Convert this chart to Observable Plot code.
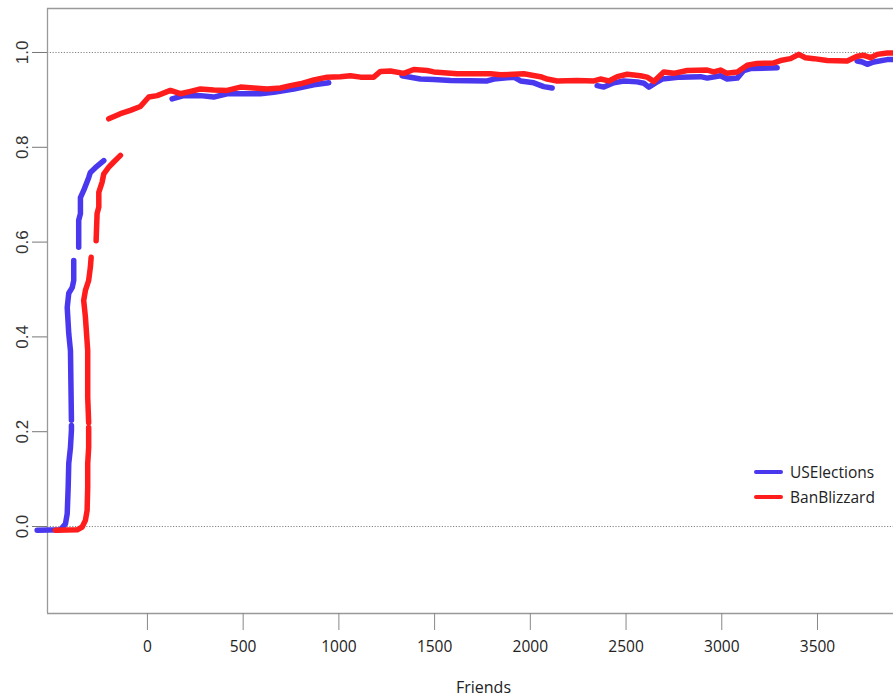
<!DOCTYPE html>
<html><head><meta charset="utf-8">
<script src="https://cdn.jsdelivr.net/npm/d3@7"></script>
<script src="https://cdn.jsdelivr.net/npm/@observablehq/plot@0.6"></script>
<style>
body{margin:0;background:#fff;}
#wrap{position:relative;width:893px;height:698px;overflow:hidden;}
#legend{position:absolute;left:754px;top:459px;font-family:"Open Sans",sans-serif;font-size:15.5px;color:#222;}
.row{display:flex;align-items:center;height:25px;}
.sw{width:29px;height:4px;margin-right:7px;border-radius:2px;}
</style></head><body><div id="wrap"><div id="legend"></div></div>
<script>
// Series names and colours
const seriesNames = ["USElections", "BanBlizzard"];
const seriesColors = ["#4a38ee", "#ff1c1c"];

// USElections (null marks a gap in the line)
const usX = [-576,-454,-428,-419,-414,-411,-402,-397,-397,null,
  -397,-402,-411,-419,-411,-393,-385,-385,null,
  -359,-359,-350,-350,-333,-307,-298,-272,-228,null,
  129,190,277,346,416,590,660,764,869,947,null,
  1330,1426,1496,1583,1775,1809,1914,1949,2018,2070,2114,null,
  2349,2384,2436,2488,2558,2593,2619,2654,2689,2784,2889,2924,2993,3028,3081,3115,3150,3289,null,
  3707,3734,3760,3794,3864,3897];
const usY = [-0.008,-0.007,0.006,0.027,0.083,0.133,0.167,0.203,0.213,null,
  0.224,0.371,0.407,0.462,0.492,0.504,0.519,0.561,null,
  0.589,0.646,0.660,0.694,0.709,0.736,0.747,0.757,0.772,null,
  0.902,0.909,0.909,0.906,0.913,0.913,0.916,0.923,0.932,0.936,null,
  0.951,0.944,0.943,0.941,0.940,0.944,0.948,0.940,0.936,0.928,0.925,null,
  0.930,0.927,0.936,0.940,0.938,0.935,0.927,0.936,0.944,0.948,0.949,0.946,0.951,0.944,0.946,0.962,0.966,0.968,null,
  0.982,0.980,0.975,0.980,0.985,0.985];

// BanBlizzard
const bbX = [-481,-367,-341,-324,-315,-312,-312,-307,-307,null,
  -307,-312,-312,-312,-324,-333,-324,-307,-298,-294,null,
  -268,-263,-254,-254,-237,-228,-202,-176,-141,null,
  -202,-141,-89,-37,7,51,120,172,225,277,346,416,486,555,625,695,747,799,869,939,1008,1060,1113,1182,1217,1269,1339,1391,1461,1496,1618,1792,1844,1966,2053,2088,2140,2245,2332,2366,2410,2454,2506,2575,2610,2645,2697,2749,2819,2924,2958,2993,3028,3081,3133,3185,3272,3307,3359,3402,3437,3481,3551,3655,3707,3742,3777,3812,3864,3897];
const bbY = [-0.008,-0.007,-0.001,0.013,0.034,0.083,0.132,0.167,0.209,null,
  0.219,0.273,0.344,0.371,0.442,0.477,0.498,0.519,0.547,0.568,null,
  0.603,0.660,0.674,0.705,0.726,0.744,0.758,0.769,0.783,null,
  0.860,0.871,0.878,0.886,0.906,0.909,0.920,0.913,0.918,0.923,0.921,0.920,0.927,0.925,0.923,0.925,0.930,0.934,0.942,0.948,0.949,0.951,0.948,0.948,0.960,0.961,0.956,0.964,0.962,0.959,0.955,0.955,0.953,0.955,0.949,0.944,0.940,0.941,0.940,0.944,0.940,0.949,0.954,0.951,0.948,0.939,0.959,0.956,0.962,0.963,0.959,0.963,0.956,0.959,0.973,0.977,0.978,0.983,0.987,0.996,0.989,0.987,0.983,0.982,0.992,0.994,0.989,0.996,0.999,0.999];

// Axes
const xTicks = [0,500,1000,1500,2000,2500,3000,3500];
const yTicks = [0,0.2,0.4,0.6,0.8,1.0];
const refLines = [0,1];
const xDomain = [-522, 3897];
const yDomain = [-0.1835, 1.0928];
const xLabel = "Friends";

const toRows = (xs, ys) => xs.map((x, i) => ({x, y: ys[i]}));
const us = toRows(usX, usY);
const bb = toRows(bbX, bbY);

const lineStyle = {x: "x", y: "y", strokeWidth: 5.5, strokeLinecap: "round", strokeLinejoin: "round"};

const chart = Plot.plot({
  width: 893, height: 698,
  marginLeft: 47, marginTop: 8, marginRight: 0, marginBottom: 85,
  x: {domain: xDomain},
  y: {domain: yDomain},
  style: {background: "#fff", color: "#222"},
  marks: [
    Plot.ruleY(refLines, {stroke: "#666", strokeDasharray: "1.2,1.6", strokeWidth: 0.8}),
    Plot.ruleX([xDomain[0]], {stroke: "#999", strokeWidth: 1.3}),
    Plot.ruleY(yDomain, {stroke: "#999", strokeWidth: 1.3}),
    Plot.axisY({ticks: yTicks, tickSize: 15, tickPadding: 5, tickRotate: -90, tickFormat: d3.format(".1f"), label: null,
      stroke: "#777", fill: "#333", fontSize: 17, fontFamily: "Liberation Sans, Arial, sans-serif"}),
    Plot.axisX({ticks: xTicks, tickSize: 17, tickPadding: 10, tickFormat: d => String(d), label: null,
      stroke: "#888", fill: "#222", fontSize: 15.5, fontFamily: "Open Sans, sans-serif"}),
    Plot.line(us, {...lineStyle, stroke: seriesColors[0]}),
    Plot.line(bb, {...lineStyle, stroke: seriesColors[1]}),
    Plot.text([xLabel], {frameAnchor: "bottom", text: d => d, dy: 79, dx: 13, fontSize: 16,
      fontFamily: "Open Sans, sans-serif", fill: "#222"})
  ]
});
const wrap = document.getElementById("wrap");
wrap.insertBefore(chart, wrap.firstChild);

const legend = document.getElementById("legend");
seriesNames.forEach((name, i) => {
  const row = document.createElement("div");
  row.className = "row";
  const sw = document.createElement("span");
  sw.className = "sw";
  sw.style.background = seriesColors[i];
  const label = document.createElement("span");
  label.textContent = name;
  row.appendChild(sw);
  row.appendChild(label);
  legend.appendChild(row);
});
</script>
</body></html>
